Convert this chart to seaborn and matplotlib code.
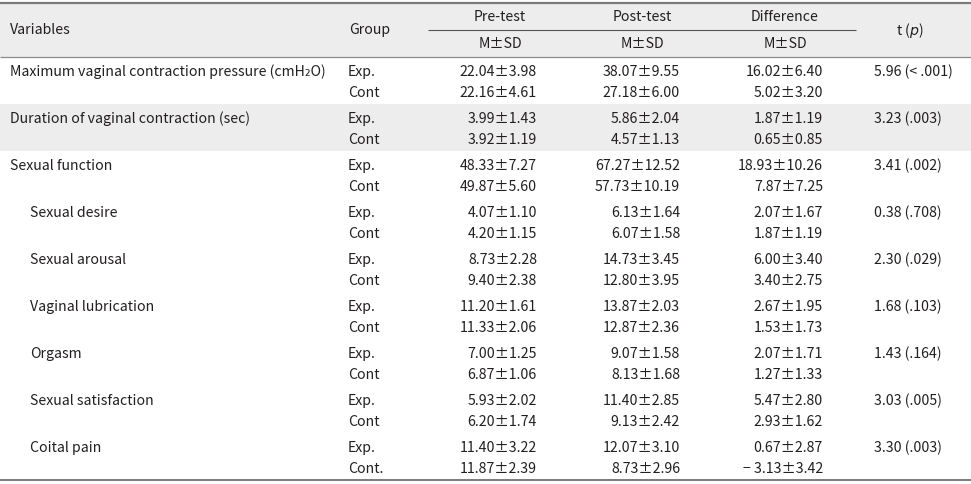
import matplotlib
matplotlib.use("Agg")
import matplotlib.pyplot as plt
import seaborn as sns
import pandas as pd

# ---------------- data ----------------
variables = ["Maximum vaginal contraction pressure (cmH₂O)",
             "Duration of vaginal contraction (sec)",
             "Sexual function", "Sexual desire", "Sexual arousal",
             "Vaginal lubrication", "Orgasm", "Sexual satisfaction", "Coital pain"]
indent = [0, 0, 0, 1, 1, 1, 1, 1, 1]
group_exp = ["Exp."] * 9
group_cont = ["Cont"] * 8 + ["Cont."]

pre_m_exp = [22.04, 3.99, 48.33, 4.07, 8.73, 11.20, 7.00, 5.93, 11.40]
pre_sd_exp = [3.98, 1.43, 7.27, 1.10, 2.28, 1.61, 1.25, 2.02, 3.22]
pre_m_cont = [22.16, 3.92, 49.87, 4.20, 9.40, 11.33, 6.87, 6.20, 11.87]
pre_sd_cont = [4.61, 1.19, 5.60, 1.15, 2.38, 2.06, 1.06, 1.74, 2.39]
post_m_exp = [38.07, 5.86, 67.27, 6.13, 14.73, 13.87, 9.07, 11.40, 12.07]
post_sd_exp = [9.55, 2.04, 12.52, 1.64, 3.45, 2.03, 1.58, 2.85, 3.10]
post_m_cont = [27.18, 4.57, 57.73, 6.07, 12.80, 12.87, 8.13, 9.13, 8.73]
post_sd_cont = [6.00, 1.13, 10.19, 1.58, 3.95, 2.36, 1.68, 2.42, 2.96]
diff_m_exp = [16.02, 1.87, 18.93, 2.07, 6.00, 2.67, 2.07, 5.47, 0.67]
diff_sd_exp = [6.40, 1.19, 10.26, 1.67, 3.40, 1.95, 1.71, 2.80, 2.87]
diff_m_cont = [5.02, 0.65, 7.87, 1.87, 3.40, 1.53, 1.27, 2.93, -3.13]
diff_sd_cont = [3.20, 0.85, 7.25, 1.19, 2.75, 1.73, 1.33, 1.62, 3.42]
t_vals = [5.96, 3.23, 3.41, 0.38, 2.30, 1.68, 1.43, 3.03, 3.30]
p_vals = ["< .001", ".003", ".002", ".708", ".029", ".103", ".164", ".005", ".003"]

shaded_rows = [1]

# ---------------- style ----------------
sns.set_theme(style="white")
plt.rcParams["font.family"] = ["Noto Sans CJK KR", "DejaVu Sans"]
TXT = "#231f20"
LINE = "#8a8a8a"
SHADE = "#ededed"
FS = 10.2

W, H = 971, 485
fig = plt.figure(figsize=(W / 100, H / 100), dpi=100)
ax = fig.add_axes([0, 0, 1, 1])
ax.set_xlim(0, W)
ax.set_ylim(H, 0)
ax.axis("off")

def fmt(m, s):
    ms = f"{abs(m):.2f}"
    if m < 0:
        ms = "\u2212 " + ms
    return f"{ms}±{s:.2f}"

# layout
x_var, x_sub, x_grp = 10, 30, 348
x_pre, x_post, x_diff, x_t = 537, 680, 823, 874
c_pre, c_post, c_diff, c_t, c_grp = 500, 642, 785, 910, 370
head_top, head_bot = 4, 57.5
row0, row_h = 58, 47
bottom = 481

# shading
ax.axhspan(head_top, head_bot, color=SHADE, lw=0, zorder=0)
for r in shaded_rows:
    ax.axhspan(row0 + r * row_h, row0 + (r + 1) * row_h, color=SHADE, lw=0, zorder=0)

# rules
ax.plot([0, W], [head_top, head_top], color="#7a7a7a", lw=1.6, solid_capstyle="butt")
ax.plot([0, W], [head_bot, head_bot], color=LINE, lw=0.9, solid_capstyle="butt")
ax.plot([428, 856], [31, 31], color="#555555", lw=0.8, solid_capstyle="butt")
ax.plot([0, W], [bottom, bottom], color="#7a7a7a", lw=1.4, solid_capstyle="butt")

kw = dict(fontsize=FS, color=TXT, va="center")
# header
ax.text(x_var, 30, "Variables", ha="left", **kw)
ax.text(c_grp, 30, "Group", ha="center", **kw)
for cx, lab in [(c_pre, "Pre-test"), (c_post, "Post-test"), (c_diff, "Difference")]:
    ax.text(cx, 17, lab, ha="center", **kw)
    ax.text(cx, 44, "M±SD", ha="center", **kw)
ax.text(c_t, 30, "t ($\\it{p}$)", ha="center", **kw)

df = pd.DataFrame({
    "var": variables, "indent": indent, "ge": group_exp, "gc": group_cont,
    "pre_e": [fmt(m, s) for m, s in zip(pre_m_exp, pre_sd_exp)],
    "pre_c": [fmt(m, s) for m, s in zip(pre_m_cont, pre_sd_cont)],
    "post_e": [fmt(m, s) for m, s in zip(post_m_exp, post_sd_exp)],
    "post_c": [fmt(m, s) for m, s in zip(post_m_cont, post_sd_cont)],
    "diff_e": [fmt(m, s) for m, s in zip(diff_m_exp, diff_sd_exp)],
    "diff_c": [fmt(m, s) for m, s in zip(diff_m_cont, diff_sd_cont)],
    "tp": [f"{t:.2f} ({p})" for t, p in zip(t_vals, p_vals)],
})

for i, row in df.iterrows():
    ye = row0 + i * row_h + 14
    yc = row0 + i * row_h + 35
    ax.text(x_sub if row["indent"] else x_var, ye, row["var"], ha="left", **kw)
    ax.text(x_grp, ye, row["ge"], ha="left", **kw)
    ax.text(x_grp, yc, row["gc"], ha="left", **kw)
    ax.text(x_pre, ye, row["pre_e"], ha="right", **kw)
    ax.text(x_pre, yc, row["pre_c"], ha="right", **kw)
    ax.text(x_post, ye, row["post_e"], ha="right", **kw)
    ax.text(x_post, yc, row["post_c"], ha="right", **kw)
    ax.text(x_diff, ye, row["diff_e"], ha="right", **kw)
    ax.text(x_diff, yc, row["diff_c"], ha="right", **kw)
    ax.text(x_t, ye, row["tp"], ha="left", **kw)

fig.savefig("out.png", dpi=100)
